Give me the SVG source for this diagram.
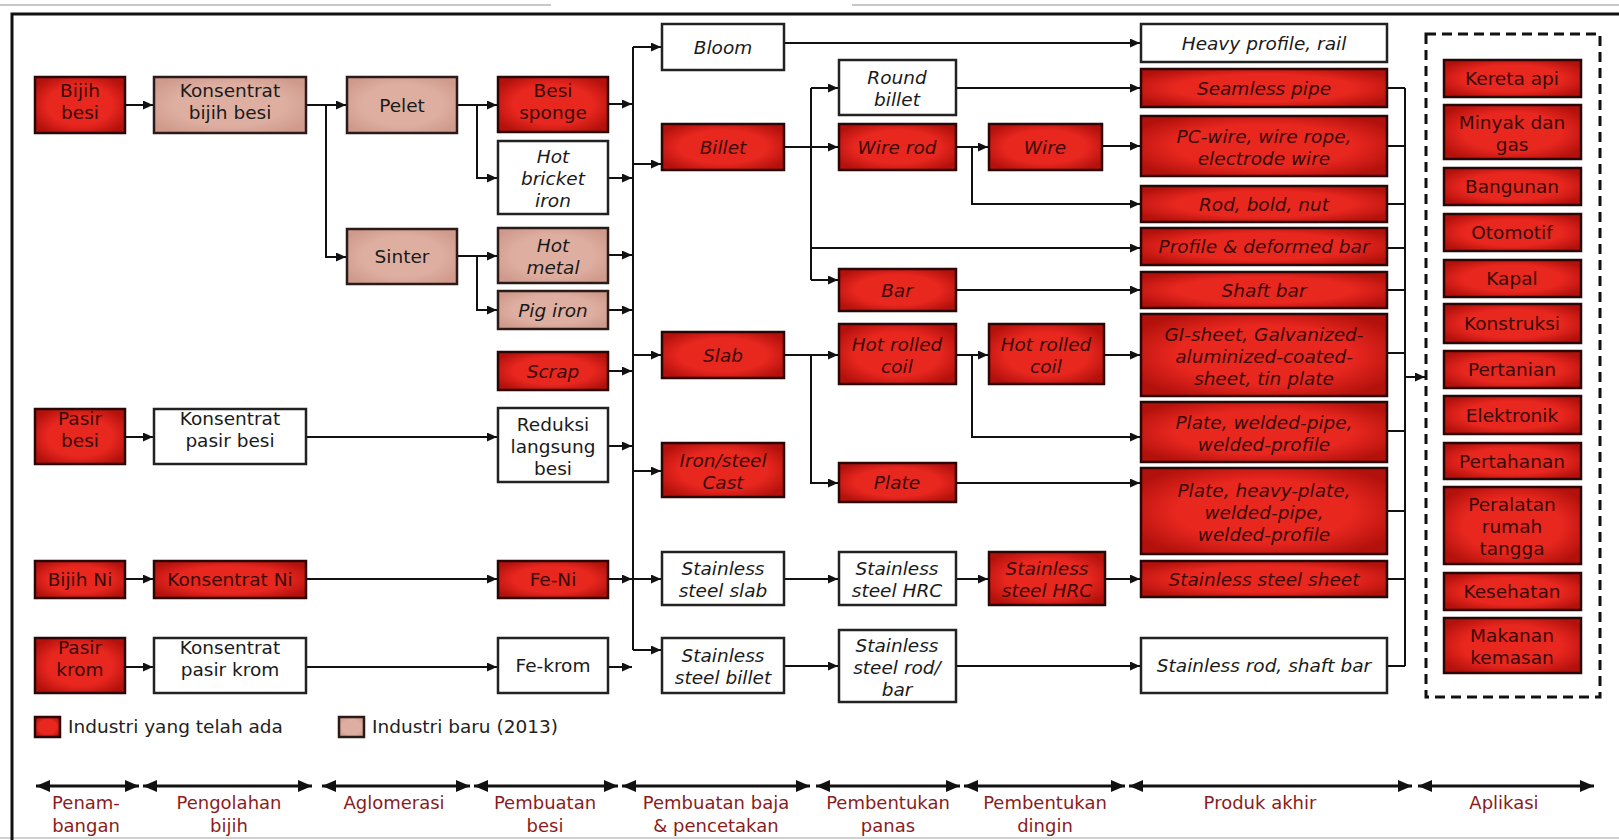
<svg xmlns="http://www.w3.org/2000/svg" width="1619" height="840" viewBox="0 0 1619 840">
<defs>
<radialGradient id="gRed" cx="0.5" cy="0.5" r="0.6">
<stop offset="0.6" stop-color="#e8271f"/>
<stop offset="1" stop-color="#b3110c"/>
</radialGradient>
<radialGradient id="gPink" cx="0.5" cy="0.5" r="0.6">
<stop offset="0.6" stop-color="#deafa1"/>
<stop offset="1" stop-color="#cf9a8c"/>
</radialGradient>
<marker id="ah" markerUnits="userSpaceOnUse" markerWidth="10" markerHeight="9" refX="10" refY="4.5" orient="auto">
<path d="M0,0 L10,4.5 L0,9 z" fill="#111"/>
</marker>
<marker id="axE" markerUnits="userSpaceOnUse" markerWidth="14" markerHeight="12" refX="14" refY="6" orient="auto">
<path d="M0,0 L14,6 L0,12 z" fill="#111"/>
</marker>
<marker id="axS" markerUnits="userSpaceOnUse" markerWidth="14" markerHeight="12" refX="0" refY="6" orient="auto">
<path d="M14,0 L0,6 L14,12 z" fill="#111"/>
</marker>
</defs>
<style>
.red{fill:url(#gRed);stroke:#2a0606;stroke-width:2.5}
.pink{fill:url(#gPink);stroke:#2a1a18;stroke-width:2.5}
.white{fill:#fff;stroke:#222;stroke-width:2.5}
text{font-family:"DejaVu Sans","Open Sans",sans-serif;font-size:18.5px;text-anchor:middle;fill:#1a1a1a}
.dk{fill:#3a0a08}
.i{font-style:italic}
.c{fill:none;stroke:#111;stroke-width:2}
.a{marker-end:url(#ah)}
.ax{fill:none;stroke:#111;stroke-width:3;marker-start:url(#axS);marker-end:url(#axE)}
.lab{fill:#8a1c1c;font-size:18px}
.leg{text-anchor:start;fill:#222}
</style>
<rect x="0" y="0" width="1619" height="840" fill="#fff"/>
<g id="frame">
<path d="M0,5 H551 M852,5 H1619" stroke="#c8c8c8" stroke-width="2" fill="none"/>
<path d="M0,838 H1619" stroke="#d0d0d0" stroke-width="2" fill="none"/>
<path d="M12,840 V14 H1619" stroke="#111" stroke-width="3" fill="none"/>
</g>
<g id="connectors">
<path class="c a" d="M125,105 H153"/>
<path class="c a" d="M306,105 H346"/>
<path class="c a" d="M326,105 V257 H346"/>
<path class="c a" d="M457,105 H497"/>
<path class="c a" d="M477,105 V178 H497"/>
<path class="c a" d="M457,256 H497"/>
<path class="c a" d="M477,256 V310 H497"/>
<path class="c a" d="M125,437 H153"/>
<path class="c a" d="M306,437 H497"/>
<path class="c a" d="M125,579 H153"/>
<path class="c a" d="M306,579 H497"/>
<path class="c a" d="M125,667 H153"/>
<path class="c a" d="M306,667 H497"/>
<path class="c a" d="M608,104 H632"/>
<path class="c a" d="M608,178 H632"/>
<path class="c a" d="M608,255 H632"/>
<path class="c a" d="M608,310 H632"/>
<path class="c a" d="M608,371 H632"/>
<path class="c a" d="M608,446 H632"/>
<path class="c a" d="M608,579 H632"/>
<path class="c a" d="M608,667 H632"/>
<path class="c" d="M633,47 V650" stroke-width="2.5"/>
<path class="c a" d="M633,47 H661"/>
<path class="c a" d="M633,164 H661"/>
<path class="c a" d="M633,355 H661"/>
<path class="c a" d="M633,471 H661"/>
<path class="c a" d="M633,579 H661"/>
<path class="c a" d="M633,650 H661"/>
<path class="c a" d="M784,43 H1140"/>
<path class="c" d="M784,147 H811 M811,88 V280"/>
<path class="c a" d="M811,88 H838"/>
<path class="c a" d="M811,147 H838"/>
<path class="c a" d="M811,280 H838"/>
<path class="c a" d="M811,248 H1140"/>
<path class="c a" d="M956,88 H1140"/>
<path class="c a" d="M956,147 H988"/>
<path class="c a" d="M972,147 V204 H1140"/>
<path class="c a" d="M1102,146 H1140"/>
<path class="c a" d="M956,290 H1140"/>
<path class="c a" d="M784,355 H838"/>
<path class="c a" d="M811,355 V483 H838"/>
<path class="c a" d="M956,355 H988"/>
<path class="c a" d="M972,355 V437 H1140"/>
<path class="c a" d="M1104,355 H1140"/>
<path class="c a" d="M956,483 H1140"/>
<path class="c a" d="M784,579 H838"/>
<path class="c a" d="M956,579 H988"/>
<path class="c a" d="M1105,579 H1140"/>
<path class="c a" d="M784,666 H838"/>
<path class="c a" d="M956,666 H1140"/>
<path class="c" d="M1387,88 H1405 M1387,146 H1405 M1387,204 H1405 M1387,248 H1405 M1387,290 H1405 M1387,353 H1405 M1387,431 H1405 M1387,511 H1405 M1387,579 H1405 M1387,666 H1405 M1405,88 V666"/>
<path class="c a" d="M1405,377 H1425"/>
</g>
<g id="n-bijih-besi"><rect class="red" x="35" y="77" width="90" height="56"/><text class="dk"><tspan x="80" y="97">Bijih</tspan><tspan x="80" y="119">besi</tspan></text></g>
<g id="n-pasir-besi"><rect class="red" x="35" y="409" width="90" height="55"/><text class="dk"><tspan x="80" y="425">Pasir</tspan><tspan x="80" y="447">besi</tspan></text></g>
<g id="n-bijih-ni"><rect class="red" x="35" y="561" width="90" height="37"/><text class="dk" x="80" y="586">Bijih Ni</text></g>
<g id="n-pasir-krom"><rect class="red" x="35" y="638" width="90" height="55"/><text class="dk"><tspan x="80" y="654">Pasir</tspan><tspan x="80" y="676">krom</tspan></text></g>
<g id="n-konsentrat-bijih-besi"><rect class="pink" x="154" y="77" width="152" height="56"/><text><tspan x="230" y="97">Konsentrat</tspan><tspan x="230" y="119">bijih besi</tspan></text></g>
<g id="n-konsentrat-pasir-besi"><rect class="white" x="154" y="409" width="152" height="55"/><text><tspan x="230" y="425">Konsentrat</tspan><tspan x="230" y="447">pasir besi</tspan></text></g>
<g id="n-konsentrat-ni"><rect class="red" x="154" y="561" width="152" height="37"/><text class="dk" x="230" y="586">Konsentrat Ni</text></g>
<g id="n-konsentrat-pasir-krom"><rect class="white" x="154" y="638" width="152" height="55"/><text><tspan x="230" y="654">Konsentrat</tspan><tspan x="230" y="676">pasir krom</tspan></text></g>
<g id="n-pelet"><rect class="pink" x="347" y="77" width="110" height="56"/><text x="402" y="112">Pelet</text></g>
<g id="n-sinter"><rect class="pink" x="347" y="229" width="110" height="55"/><text x="402" y="263">Sinter</text></g>
<g id="n-besi-sponge"><rect class="red" x="498" y="77" width="110" height="55"/><text class="dk"><tspan x="553" y="97">Besi</tspan><tspan x="553" y="119">sponge</tspan></text></g>
<g id="n-hot-bricket-iron"><rect class="white" x="498" y="141" width="110" height="73"/><text class="i"><tspan x="553" y="163">Hot</tspan><tspan x="553" y="185">bricket</tspan><tspan x="553" y="207">iron</tspan></text></g>
<g id="n-hot-metal"><rect class="pink" x="498" y="228" width="110" height="55"/><text class="i"><tspan x="553" y="252">Hot</tspan><tspan x="553" y="274">metal</tspan></text></g>
<g id="n-pig-iron"><rect class="pink" x="498" y="291" width="110" height="38"/><text class="i" x="553" y="317">Pig iron</text></g>
<g id="n-scrap"><rect class="red" x="498" y="352" width="110" height="38"/><text class="i dk" x="553" y="378">Scrap</text></g>
<g id="n-reduksi"><rect class="white" x="498" y="408" width="110" height="74"/><text><tspan x="553" y="431">Reduksi</tspan><tspan x="553" y="453">langsung</tspan><tspan x="553" y="475">besi</tspan></text></g>
<g id="n-fe-ni"><rect class="red" x="498" y="561" width="110" height="37"/><text class="dk" x="553" y="586">Fe-Ni</text></g>
<g id="n-fe-krom"><rect class="white" x="498" y="638" width="110" height="55"/><text x="553" y="672">Fe-krom</text></g>
<g id="n-bloom"><rect class="white" x="662" y="24" width="122" height="46"/><text class="i" x="723" y="54">Bloom</text></g>
<g id="n-billet"><rect class="red" x="662" y="124" width="122" height="46"/><text class="i dk" x="723" y="154">Billet</text></g>
<g id="n-slab"><rect class="red" x="662" y="332" width="122" height="46"/><text class="i dk" x="723" y="362">Slab</text></g>
<g id="n-iron-steel-cast"><rect class="red" x="662" y="443" width="122" height="54"/><text class="i dk"><tspan x="723" y="467">Iron/steel</tspan><tspan x="723" y="489">Cast</tspan></text></g>
<g id="n-ss-slab"><rect class="white" x="662" y="552" width="122" height="53"/><text class="i"><tspan x="723" y="575">Stainless</tspan><tspan x="723" y="597">steel slab</tspan></text></g>
<g id="n-ss-billet"><rect class="white" x="662" y="638" width="122" height="55"/><text class="i"><tspan x="723" y="662">Stainless</tspan><tspan x="723" y="684">steel billet</tspan></text></g>
<g id="n-round-billet"><rect class="white" x="839" y="60" width="117" height="55"/><text class="i"><tspan x="897" y="84">Round</tspan><tspan x="897" y="106">billet</tspan></text></g>
<g id="n-wire-rod"><rect class="red" x="839" y="124" width="117" height="46"/><text class="i dk" x="897" y="154">Wire rod</text></g>
<g id="n-bar"><rect class="red" x="839" y="269" width="117" height="42"/><text class="i dk" x="897" y="297">Bar</text></g>
<g id="n-hrc1"><rect class="red" x="839" y="324" width="117" height="60"/><text class="i dk"><tspan x="897" y="351">Hot rolled</tspan><tspan x="897" y="373">coil</tspan></text></g>
<g id="n-plate"><rect class="red" x="839" y="463" width="117" height="39"/><text class="i dk" x="897" y="489">Plate</text></g>
<g id="n-ss-hrc1"><rect class="white" x="839" y="552" width="117" height="53"/><text class="i"><tspan x="897" y="575">Stainless</tspan><tspan x="897" y="597">steel HRC</tspan></text></g>
<g id="n-ss-rod-bar"><rect class="white" x="839" y="630" width="117" height="72"/><text class="i"><tspan x="897" y="652">Stainless</tspan><tspan x="897" y="674">steel rod/</tspan><tspan x="897" y="696">bar</tspan></text></g>
<g id="n-wire"><rect class="red" x="989" y="124" width="113" height="46"/><text class="i dk" x="1045" y="154">Wire</text></g>
<g id="n-hrc2"><rect class="red" x="989" y="324" width="115" height="60"/><text class="i dk"><tspan x="1046" y="351">Hot rolled</tspan><tspan x="1046" y="373">coil</tspan></text></g>
<g id="n-ss-hrc2"><rect class="red" x="989" y="552" width="116" height="53"/><text class="i dk"><tspan x="1047" y="575">Stainless</tspan><tspan x="1047" y="597">steel HRC</tspan></text></g>
<g id="n-heavy-profile"><rect class="white" x="1141" y="24" width="246" height="38"/><text class="i" x="1264" y="50">Heavy profile, rail</text></g>
<g id="n-seamless"><rect class="red" x="1141" y="69" width="246" height="38"/><text class="i dk" x="1264" y="95">Seamless pipe</text></g>
<g id="n-pc-wire"><rect class="red" x="1141" y="116" width="246" height="60"/><text class="i dk"><tspan x="1264" y="143">PC-wire, wire rope,</tspan><tspan x="1264" y="165">electrode wire</tspan></text></g>
<g id="n-rod-bold-nut"><rect class="red" x="1141" y="186" width="246" height="36"/><text class="i dk" x="1264" y="211">Rod, bold, nut</text></g>
<g id="n-profile-deformed"><rect class="red" x="1141" y="228" width="246" height="37"/><text class="i dk" x="1264" y="253">Profile &amp; deformed bar</text></g>
<g id="n-shaft-bar"><rect class="red" x="1141" y="272" width="246" height="36"/><text class="i dk" x="1264" y="297">Shaft bar</text></g>
<g id="n-gi-sheet"><rect class="red" x="1141" y="314" width="246" height="82"/><text class="i dk"><tspan x="1264" y="341">GI-sheet, Galvanized-</tspan><tspan x="1264" y="363">aluminized-coated-</tspan><tspan x="1264" y="385">sheet, tin plate</tspan></text></g>
<g id="n-plate-welded"><rect class="red" x="1141" y="402" width="246" height="60"/><text class="i dk"><tspan x="1264" y="429">Plate, welded-pipe,</tspan><tspan x="1264" y="451">welded-profile</tspan></text></g>
<g id="n-plate-heavy"><rect class="red" x="1141" y="468" width="246" height="86"/><text class="i dk"><tspan x="1264" y="497">Plate, heavy-plate,</tspan><tspan x="1264" y="519">welded-pipe,</tspan><tspan x="1264" y="541">welded-profile</tspan></text></g>
<g id="n-ss-sheet"><rect class="red" x="1141" y="561" width="246" height="36"/><text class="i dk" x="1264" y="586">Stainless steel sheet</text></g>
<g id="n-ss-rod-shaft"><rect class="white" x="1141" y="638" width="246" height="55"/><text class="i" x="1264" y="672">Stainless rod, shaft bar</text></g>
<g id="aplikasi">
<rect x="1426" y="34" width="174" height="663" fill="none" stroke="#111" stroke-width="3" stroke-dasharray="10,6"/>
<g id="n-kereta"><rect class="red" x="1444" y="60" width="137" height="37"/><text class="dk" x="1512" y="85">Kereta api</text></g>
<g id="n-minyak"><rect class="red" x="1444" y="105" width="137" height="54"/><text class="dk"><tspan x="1512" y="129">Minyak dan</tspan><tspan x="1512" y="151">gas</tspan></text></g>
<g id="n-bangunan"><rect class="red" x="1444" y="168" width="137" height="37"/><text class="dk" x="1512" y="193">Bangunan</text></g>
<g id="n-otomotif"><rect class="red" x="1444" y="214" width="137" height="37"/><text class="dk" x="1512" y="239">Otomotif</text></g>
<g id="n-kapal"><rect class="red" x="1444" y="260" width="137" height="37"/><text class="dk" x="1512" y="285">Kapal</text></g>
<g id="n-konstruksi"><rect class="red" x="1444" y="304" width="137" height="39"/><text class="dk" x="1512" y="330">Konstruksi</text></g>
<g id="n-pertanian"><rect class="red" x="1444" y="351" width="137" height="37"/><text class="dk" x="1512" y="376">Pertanian</text></g>
<g id="n-elektronik"><rect class="red" x="1444" y="396" width="137" height="38"/><text class="dk" x="1512" y="422">Elektronik</text></g>
<g id="n-pertahanan"><rect class="red" x="1444" y="443" width="137" height="36"/><text class="dk" x="1512" y="468">Pertahanan</text></g>
<g id="n-peralatan"><rect class="red" x="1444" y="487" width="137" height="77"/><text class="dk"><tspan x="1512" y="511">Peralatan</tspan><tspan x="1512" y="533">rumah</tspan><tspan x="1512" y="555">tangga</tspan></text></g>
<g id="n-kesehatan"><rect class="red" x="1444" y="573" width="137" height="37"/><text class="dk" x="1512" y="598">Kesehatan</text></g>
<g id="n-makanan"><rect class="red" x="1444" y="618" width="137" height="55"/><text class="dk"><tspan x="1512" y="642">Makanan</tspan><tspan x="1512" y="664">kemasan</tspan></text></g>
</g>
<g id="legend">
<rect class="red" x="35" y="717" width="25" height="20"/>
<text class="leg" x="68" y="733">Industri yang telah ada</text>
<rect class="pink" x="339" y="717" width="25" height="20"/>
<text class="leg" x="372" y="733">Industri baru (2013)</text>
</g>
<g id="axis">
<path class="ax" d="M36,786 H139"/>
<path class="ax" d="M143,786 H312"/>
<path class="ax" d="M322,786 H470"/>
<path class="ax" d="M474,786 H618"/>
<path class="ax" d="M622,786 H810"/>
<path class="ax" d="M816,786 H960"/>
<path class="ax" d="M964,786 H1125"/>
<path class="ax" d="M1129,786 H1412"/>
<path class="ax" d="M1418,786 H1594"/>
<text class="lab"><tspan x="86" y="809">Penam-</tspan><tspan x="86" y="832">bangan</tspan></text>
<text class="lab"><tspan x="229" y="809">Pengolahan</tspan><tspan x="229" y="832">bijih</tspan></text>
<text class="lab" x="394" y="809">Aglomerasi</text>
<text class="lab"><tspan x="545" y="809">Pembuatan</tspan><tspan x="545" y="832">besi</tspan></text>
<text class="lab"><tspan x="716" y="809">Pembuatan baja</tspan><tspan x="716" y="832">&amp; pencetakan</tspan></text>
<text class="lab"><tspan x="888" y="809">Pembentukan</tspan><tspan x="888" y="832">panas</tspan></text>
<text class="lab"><tspan x="1045" y="809">Pembentukan</tspan><tspan x="1045" y="832">dingin</tspan></text>
<text class="lab" x="1260" y="809">Produk akhir</text>
<text class="lab" x="1504" y="809">Aplikasi</text>
</g>
</svg>
